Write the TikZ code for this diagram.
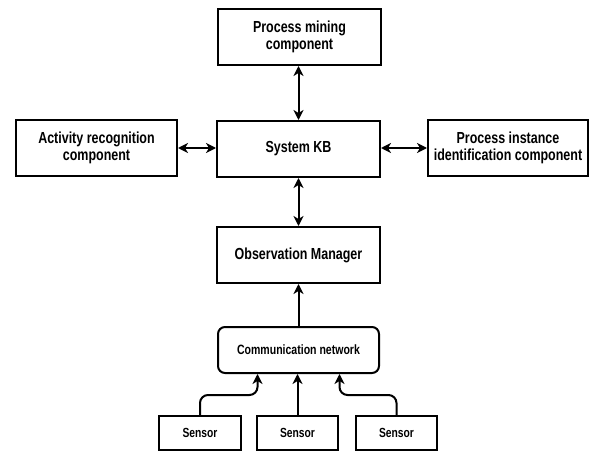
\documentclass[tikz,border=0pt]{standalone}
\usepackage{fontspec}
\setmainfont{Liberation Sans}[FakeStretch=0.78]
\usetikzlibrary{arrows.meta,calc}

\tikzset{
  tip/.tip={Stealth[length=10pt,width=10pt,inset=3pt]},
  box/.style={draw=black, line width=2pt, fill=white, inner sep=0pt,
    align=center, font=\fontsize{16}{17.5}\selectfont\bfseries},
  netbox/.style={box, rounded corners=7pt, font=\fontsize{13.5}{15}\selectfont\bfseries},
  sensorbox/.style={box, minimum height=34pt, font=\fontsize{13.2}{14}\selectfont\bfseries},
  link/.style={line width=2pt, tip-tip},
  feed/.style={line width=2pt, -tip, rounded corners=8pt}
}

\begin{document}
\begin{tikzpicture}[x=1pt,y=-1pt]
  % page frame
  \path[fill=white] (0,0) rectangle (590,452);
  \useasboundingbox (0,0) rectangle (590,452);

  % components
  \node[box, minimum width=163pt, minimum height=56pt] (pm) at (299.5,37) {Process mining\\component};
  \node[box, minimum width=163pt, minimum height=56pt] (kb) at (298.5,149) {System KB};
  \node[box, minimum width=161pt, minimum height=56pt] (ar) at (96.5,148) {Activity recognition\\component};
  \node[box, minimum width=160pt, minimum height=56pt] (pi) at (508,148) {Process instance\\identification component};
  \node[box, minimum width=163pt, minimum height=56pt] (om) at (298.5,255) {Observation Manager};
  \node[netbox, minimum width=161pt, minimum height=46pt] (cn) at (298.5,350) {Communication network};

  % sensors
  \node[sensorbox, minimum width=82pt] (s1) at (200,433) {Sensor};
  \node[sensorbox, minimum width=81pt] (s2) at (297.5,433) {Sensor};
  \node[sensorbox, minimum width=81pt] (s3) at (396.5,433) {Sensor};

  % knowledge base links
  \draw[link] (pm.south -| kb.north) -- (kb.north);
  \draw[link] (ar.east) -- (ar.east -| kb.west);
  \draw[link] (pi.west -| kb.east) -- (pi.west);
  \draw[link] (kb.south) -- (om.north);

  % data flow upwards
  \draw[feed] (cn.north) -- (om.south);
  \draw[feed] (s1.north) -- ++(0,-20) -| ([xshift=-41pt]cn.south);
  \draw[feed] (s2.north) -- (s2.north |- cn.south);
  \draw[feed] (s3.north) -- ++(0,-20) -| ([xshift=41pt]cn.south);
\end{tikzpicture}
\end{document}
